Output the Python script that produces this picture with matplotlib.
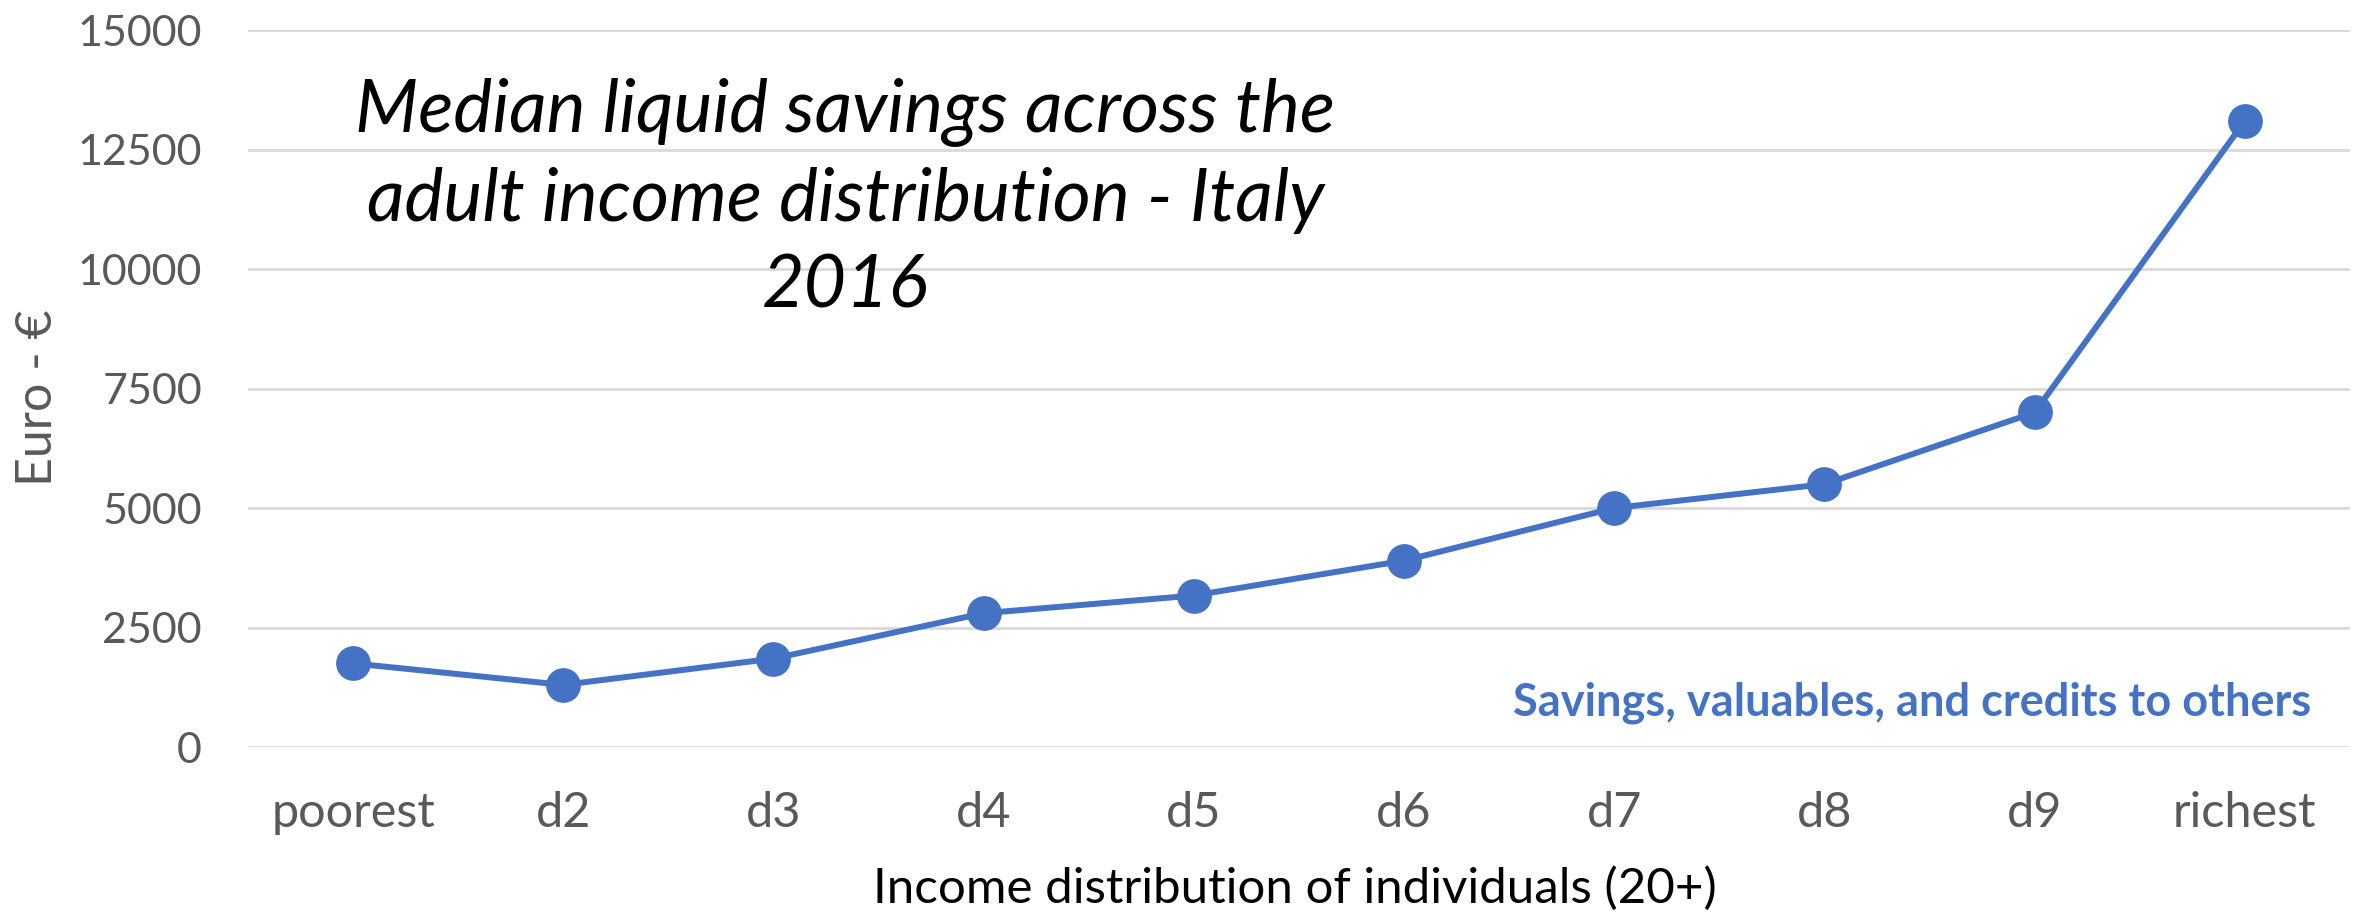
import matplotlib
matplotlib.use("Agg")
import matplotlib.pyplot as plt

deciles = ['poorest', 'd2', 'd3', 'd4', 'd5', 'd6', 'd7', 'd8', 'd9', 'richest']
savings = [1750, 1300, 1850, 2800, 3170, 3900, 5000, 5500, 7000, 13100]
yticks = [0, 2500, 5000, 7500, 10000, 12500, 15000]

blue = '#4472C4'
grey = '#595959'

fig = plt.figure(figsize=(23.61, 9.14), dpi=100)
ax = fig.add_axes([0.105, 0.1827, 0.8903, 0.7843])

x = list(range(len(deciles)))
ax.plot(x, savings, color=blue, linewidth=4.3, marker='o', markersize=24,
        solid_capstyle='round', zorder=3)

ax.set_xlim(-0.5, len(deciles) - 0.5)
ax.set_ylim(0, 15000)
ax.set_yticks(yticks)
ax.set_yticklabels([str(v) for v in yticks], fontsize=31, color=grey,
                   family='Lato')
ax.set_xticks(x)
ax.set_xticklabels(deciles, fontsize=35, color=grey, family='Lato')
ax.tick_params(axis='both', length=0)
ax.tick_params(axis='y', pad=33)
ax.tick_params(axis='x', pad=32)

ax.grid(axis='y', color='#D9D9D9', linewidth=2)
ax.set_axisbelow(True)
for s in ax.spines.values():
    s.set_visible(False)

# axis titles placed on the figure
fig.text(0.016, 0.565, 'Euro - €', fontsize=36, color=grey, family='Lato',
         rotation=90, ha='center', va='center')
fig.text(0.5485, 0.028, 'Income distribution of individuals (20+)',
         fontsize=35.5, color='black', family='Lato', ha='center', va='center')

fig.text(0.358, 0.782,
         'Median liquid savings across the\nadult income distribution - Italy\n2016',
         fontsize=52.8, style='italic', family='Lato', ha='center', va='center',
         linespacing=1.36)

fig.text(0.979, 0.231, 'Savings, valuables, and credits to others',
         fontsize=32.5, fontweight='bold', color=blue, family='Lato',
         ha='right', va='center')

fig.savefig('out.png', dpi=100)
